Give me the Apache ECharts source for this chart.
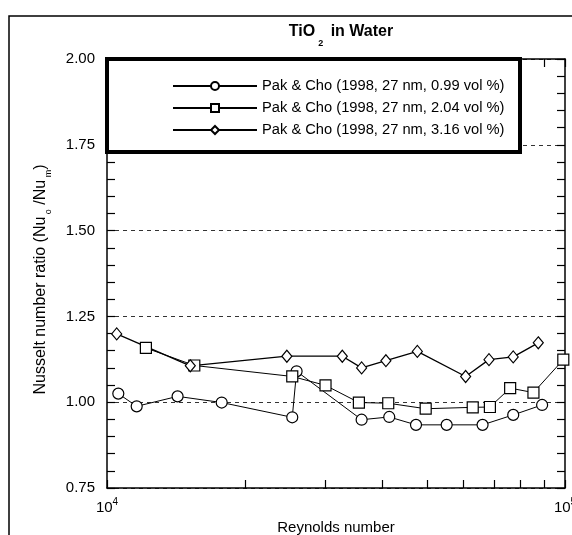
<!DOCTYPE html>
<html>
<head>
<meta charset="utf-8">
<style>
  html, body { margin: 0; padding: 0; background: #fff; }
  #chart { width: 572px; height: 535px; }
</style>
<script src="https://cdn.jsdelivr.net/npm/echarts@6/dist/echarts.min.js"></script>
</head>
<body>
<div id="chart"></div>
<script>
// Reynolds numbers and Nusselt number ratios, Pak & Cho (1998), TiO2 (27 nm) in water
const re099 = [10585, 11610, 14260, 17800, 25380, 25940, 35970, 41330, 47280, 55160, 66070, 77080, 89130];
const nu099 = [1.025, 0.988, 1.017, 0.999, 0.956, 1.090, 0.949, 0.957, 0.934, 0.934, 0.934, 0.963, 0.992];

const re204 = [12160, 15510, 25380, 30000, 35480, 41120, 49640, 62880, 68550, 75900, 85330, 99150];
const nu204 = [1.158, 1.107, 1.075, 1.049, 0.999, 0.997, 0.981, 0.985, 0.986, 1.041, 1.028, 1.124];

const re316 = [10500, 15200, 24700, 32640, 35970, 40640, 47600, 60680, 68240, 77080, 87430];
const nu316 = [1.199, 1.106, 1.134, 1.134, 1.100, 1.121, 1.148, 1.075, 1.124, 1.132, 1.173];

const seriesNames = [
  'Pak & Cho (1998, 27 nm, 0.99 vol %)',
  'Pak & Cho (1998, 27 nm, 2.04 vol %)',
  'Pak & Cho (1998, 27 nm, 3.16 vol %)'
];

// tick positions along the Reynolds-number axis (one decade)
const xTickValues = [10000, 20000, 30000, 40000, 50000, 60000, 70000, 80000, 90000, 100000];
const xLabelValues = [10000, 100000];

const FONT = 'Liberation Sans, Arial, Helvetica, sans-serif';

function pairs(xs, ys) { return xs.map((x, i) => [x, ys[i]]); }

const chart = echarts.init(document.getElementById('chart'), null, { renderer: 'canvas' });

const supRich = {
  base: { fontSize: 15, fontFamily: FONT, color: '#000', lineHeight: 18, verticalAlign: 'bottom' },
  sup: { fontSize: 10, fontFamily: FONT, color: '#000', lineHeight: 18, verticalAlign: 'top' }
};

function xAxisCommon(pos) {
  return {
    type: 'log',
    logBase: 10,
    min: 10000,
    max: 100000,
    position: pos,
    axisLine: { show: true, onZero: false, lineStyle: { color: '#000', width: 1.5 } },
    axisTick: { show: true, inside: true, length: 8, customValues: xTickValues, lineStyle: { color: '#000', width: 1.2 } },
    splitLine: { show: false },
    minorTick: { show: false },
    minorSplitLine: { show: false }
  };
}

const xBottom = Object.assign(xAxisCommon('bottom'), {
  name: 'Reynolds number',
  nameLocation: 'middle',
  nameGap: 32,
  nameTextStyle: { fontSize: 15, fontFamily: FONT, color: '#000' },
  axisLabel: {
    show: true,
    customValues: xLabelValues,
    margin: 9,
    showMinLabel: true,
    showMaxLabel: true,
    hideOverlap: false,
    formatter: v => '{base|10}{sup|' + Math.round(Math.log10(v)) + '}',
    rich: supRich
  }
});

const xTop = Object.assign(xAxisCommon('top'), { axisLabel: { show: false } });

function yAxisCommon(pos) {
  return {
    type: 'value',
    min: 0.75,
    max: 2.0,
    interval: 0.25,
    position: pos,
    axisLine: { show: true, onZero: false, lineStyle: { color: '#000', width: 1.5 } },
    axisTick: { show: true, inside: true, length: 8, lineStyle: { color: '#000', width: 1.2 } },
    minorTick: { show: true, splitNumber: 5, length: 8, lineStyle: { color: '#000', width: 1.2 } },
    minorSplitLine: { show: false }
  };
}

const yLeft = Object.assign(yAxisCommon('left'), {
  name: '{t|Nusselt number ratio (Nu}{s| o}{t| /Nu}{s| m}{e|)}',
  nameLocation: 'middle',
  nameRotate: 90,
  nameGap: 54,
  nameTextStyle: {
    rich: {
      t: { fontSize: 16, fontFamily: FONT, color: '#000', lineHeight: 20, verticalAlign: 'top' },
      e: { fontSize: 16, fontFamily: FONT, color: '#000', lineHeight: 20, verticalAlign: 'top', padding: [0, 12, 0, 0] },
      s: { fontSize: 9, fontFamily: FONT, color: '#000', lineHeight: 20, verticalAlign: 'bottom' }
    }
  },
  axisLabel: {
    show: true,
    margin: 12,
    fontSize: 15,
    fontFamily: FONT,
    color: '#000',
    formatter: v => v.toFixed(2)
  },
  splitLine: { show: true, lineStyle: { color: '#333', width: 1, type: [4, 4] } }
});

const yRight = Object.assign(yAxisCommon('right'), {
  axisLabel: { show: false },
  splitLine: { show: false }
});

function lineSeries(name, data, symbol, size, width) {
  return {
    name: name,
    type: 'line',
    xAxisIndex: 0,
    yAxisIndex: 0,
    data: data,
    symbol: symbol,
    symbolSize: size,
    showAllSymbol: true,
    lineStyle: { color: '#000', width: width },
    itemStyle: { color: '#fff', borderColor: '#000', borderWidth: 1.2 },
    emphasis: { disabled: true },
    animation: false,
    z: 3
  };
}

const option = {
  backgroundColor: '#fff',
  animation: false,
  title: {
    text: '{b|TiO}{s|2}{b| in Water}',
    left: 336,
    textAlign: 'center',
    top: 19,
    textStyle: {
      rich: {
        b: { fontSize: 16, fontWeight: 'bold', fontFamily: FONT, color: '#000', lineHeight: 24, verticalAlign: 'top' },
        s: { fontSize: 9, fontWeight: 'bold', fontFamily: FONT, color: '#000', lineHeight: 24, verticalAlign: 'bottom', padding: [0, 3, 0, 3] }
      }
    }
  },
  grid: { left: 107, right: 7, top: 59, bottom: 47, containLabel: false, outerBoundsMode: 'none' },
  legend: {
    orient: 'vertical',
    left: 107,
    top: 59,
    padding: [16, 8, 11, 65],
    itemWidth: 84,
    itemHeight: 10,
    itemGap: 0,
    backgroundColor: '#fff',
    borderColor: '#000',
    borderWidth: 4,
    selectedMode: false,
    data: seriesNames,
    textStyle: { fontSize: 14.7, fontFamily: FONT, color: '#000', lineHeight: 22, width: 250, overflow: 'none' }
  },
  graphic: [{
    type: 'rect',
    silent: true,
    z: -10,
    shape: { x: 9, y: 16, width: 700, height: 700 },
    style: { fill: 'none', stroke: '#000', lineWidth: 1.5 }
  }],
  xAxis: [xBottom, xTop],
  yAxis: [yLeft, yRight],
  series: [
    lineSeries(seriesNames[0], pairs(re099, nu099), 'circle', 11, 1),
    lineSeries(seriesNames[1], pairs(re204, nu204), 'rect', 11, 1),
    lineSeries(seriesNames[2], pairs(re316, nu316), 'diamond', [10, 12], 1.3)
  ]
};

chart.setOption(option);
</script>
</body>
</html>
